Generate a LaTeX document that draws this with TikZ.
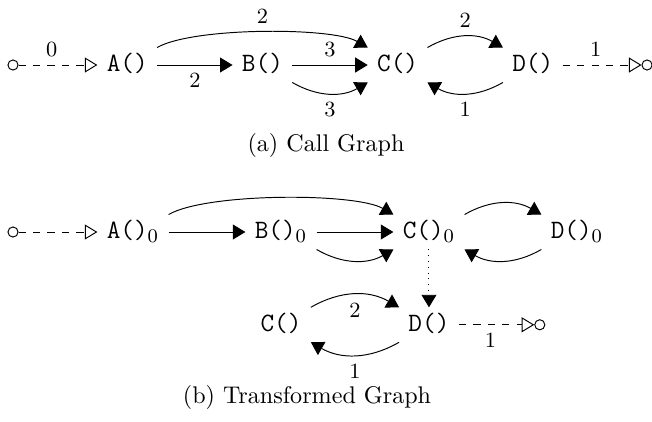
\documentclass[tikz,border=0pt]{standalone}
\usetikzlibrary{positioning, arrows.meta}

\begin{document}
\begin{tikzpicture}[
    x=0.415pt, y=-0.415pt,
    fn/.style={font=\fontsize{11pt}{13pt}\selectfont\ttfamily, inner xsep=3.7pt, inner ysep=1.7pt, text height=8pt, text depth=2.7pt},
    port/.style={draw, circle, inner sep=0pt, minimum size=4.2pt},
    edge/.style={-{Triangle[length=5.2pt, width=6.2pt]}},
    flow/.style={dashed, -{Triangle[open, length=5.2pt, width=6.2pt]}},
    lbl/.style={font=\small},
    subcap/.style={font=\normalsize}
]
\useasboundingbox (0,0) rectangle (652,421);

% (a) call graph
\node[port] (in1) at (13,65) {};
\node[fn, right=1.15cm of in1] (A) {A()};
\node[fn, right=1.1cm of A] (B) {B()};
\node[fn, right=1.1cm of B] (C) {C()};
\node[fn, right=1.1cm of C] (D) {D()};
\node[port, right=1.15cm of D] (out1) {};
\node[subcap] (capa) at (326,145) {(a) Call Graph};

\draw[flow] (in1) -- (A) node[lbl, pos=0.42, above] {0};
\draw[edge] (A) -- (B) node[lbl, midway, below] {2};
\draw[edge] (B) -- (C) node[lbl, midway, above] {3};
\draw[edge] (A.north east) to[bend left=30, looseness=0.5] node[lbl, midway, above] {2} (C.north west);
\draw[edge] (B.south east) to[bend right=30] node[lbl, midway, below] {3} (C.south west);
\draw[edge] (C.north east) to[bend left=30] node[lbl, midway, above] {2} (D.north west);
\draw[edge] (D.south west) to[bend left=30] node[lbl, midway, below] {1} (C.south east);
\draw[flow] (D) -- (out1) node[lbl, pos=0.42, above] {1};

% (b) transformed graph
\node[port] (in2) at (13,232) {};
\node[fn, right=1.15cm of in2] (A0) {$\texttt{A()}_0$};
\node[fn, right=1.12cm of A0] (B0) {$\texttt{B()}_0$};
\node[fn, right=1.12cm of B0] (C0) {$\texttt{C()}_0$};
\node[fn, right=1.12cm of C0] (D0) {$\texttt{D()}_0$};
\node[fn, below=24pt of B0] (C1) {C()};
\node[fn, below=24pt of C0] (D1) {D()};
\node[port, right=1.1cm of D1] (out2) {};
\node[subcap] (capb) at (307,397) {(b) Transformed Graph};

\draw[flow] (in2) -- (A0);
\draw[edge] (A0) -- (B0);
\draw[edge] (B0) -- (C0);
\draw[edge] (A0.north east) to[bend left=30, looseness=0.5] (C0.north west);
\draw[edge] (B0.south east) to[bend right=30] (C0.south west);
\draw[edge] (C0.north east) to[bend left=30] (D0.north west);
\draw[edge] (D0.south west) to[bend left=30] (C0.south east);
\draw[edge, dotted] (C0) -- (D1);
\draw[edge] (C1.north east) to[bend left=30] node[lbl, midway, below] {2} (D1.north west);
\draw[edge] (D1.south west) to[bend left=30] node[lbl, midway, below] {1} (C1.south east);
\draw[flow] (D1) -- (out2) node[lbl, pos=0.42, below] {1};

\end{tikzpicture}
\end{document}
